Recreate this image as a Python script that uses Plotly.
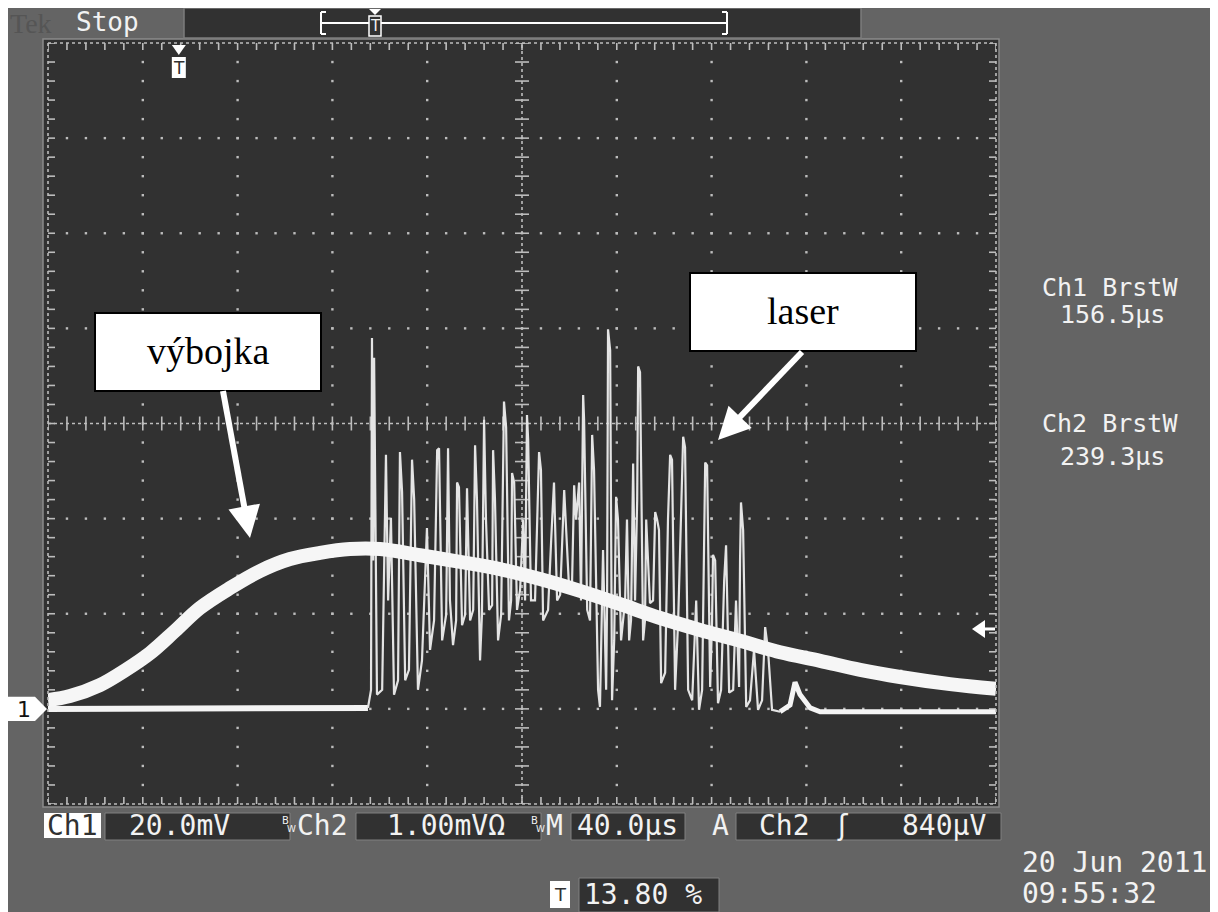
import plotly.graph_objects as go

# ---------------- data ----------------
TIME_PER_DIV_US = 40.0      # "M 40.0µs"
CH1_MV_PER_DIV = 20.0       # "Ch1 20.0mV"
CH2_MV_PER_DIV = 1.0        # "Ch2 1.00mV"
GROUND_DIV = -3.0           # both channel ground markers sit 3 div below centre
TRIG_LEVEL_MV = 0.84        # "Ch2 840µV"
TRIG_POS_PCT = 13.80        # "13.80 %"

# Ch1 – discharge lamp (výbojka)
ch1_t_us = [0, 9.3, 21.9, 32.5, 43.0, 53.6, 64.1, 76.8, 89.5, 102.1, 114.8, 127.4,
            140.1, 157.0, 173.9, 190.7, 207.6, 224.5, 241.4, 258.3, 275.1, 292.0,
            308.9, 325.8, 342.7, 359.5, 380.6, 400.0]
ch1_mv = [1.85, 2.7, 5.0, 8.1, 11.7, 16.4, 21.2, 25.4, 29.0, 31.5, 32.8, 33.6,
          33.6, 32.3, 30.9, 29.4, 27.3, 24.8, 22.0, 19.1, 16.6, 14.3,
          11.9, 10.1, 8.2, 6.7, 5.2, 4.2]

# Ch2 – laser: quiet baseline, burst of spikes, quiet baseline
ch2_pre_t_us = [0, 30.4, 64.1, 97.9, 135.0]
ch2_pre_mv = [0.0, 0.0, 0.01, 0.0, 0.01]

ch2_burst_t_us = [135.0, 136.3, 136.7, 137.2, 137.6, 138.8, 141.0, 142.6, 143.5, 144.7,
                  146.0, 147.7, 148.5, 149.4, 150.7, 152.3, 153.6, 154.5, 156.1, 157.8,
                  159.9, 161.2, 162.9, 164.2, 165.0, 166.3, 168.0, 168.8, 169.6, 170.9,
                  172.2, 172.6, 173.4, 174.7, 176.0, 176.8, 178.1, 179.4, 180.2, 181.0,
                  182.3, 183.1, 184.0, 184.8, 186.1, 187.4, 187.8, 188.6, 189.9, 191.2,
                  192.4, 193.3, 194.5, 195.4, 195.8, 196.7, 197.9, 199.2, 200.5, 201.3,
                  202.1, 202.6, 203.8, 205.5, 207.2, 208.0, 208.9, 211.0, 212.3, 213.5,
                  214.8, 216.1, 217.8, 218.6, 219.9, 221.1, 222.0, 222.8, 224.1, 224.9,
                  225.8, 226.2, 227.5, 228.7, 229.6, 230.4, 232.1, 232.9, 234.2, 235.5,
                  235.9, 236.3, 237.2, 238.0, 238.9, 239.7, 240.5, 241.8, 243.5, 244.3,
                  245.2, 246.0, 246.9, 247.7, 248.6, 249.0, 249.8, 251.1, 251.9, 252.4,
                  253.2, 254.0, 255.3, 256.2, 257.0, 257.8, 258.7, 260.4, 261.6, 262.5,
                  263.3, 264.6, 265.9, 267.1, 268.0, 268.8, 270.1, 271.8, 273.5, 274.7,
                  276.0, 277.3, 278.1, 279.4, 280.2, 280.6, 281.5, 282.7, 284.0, 285.3,
                  286.1, 287.4, 289.1, 290.3, 291.6, 292.0, 292.4, 293.3, 294.6, 296.2,
                  297.9, 299.6, 301.3, 302.6, 303.8, 305.5, 308.9]
ch2_burst_mv = [0.01, 0.20, 3.90, 1.56, 3.69, 0.15, 0.20, 2.67, 1.14, 2.01,
                0.15, 0.30, 2.70, 2.28, 0.30, 0.41, 2.62, 2.20, 0.20, 0.51,
                1.90, 0.62, 0.93, 2.72, 2.74, 0.72, 0.99, 2.74, 1.14, 0.67,
                0.93, 2.38, 2.33, 0.88, 0.99, 2.32, 0.93, 1.04, 2.77, 2.20,
                0.51, 0.99, 3.04, 1.99, 1.04, 1.09, 2.72, 2.20, 0.72, 0.99,
                3.23, 2.96, 0.93, 1.14, 2.48, 2.38, 1.04, 1.25, 1.99, 1.14,
                3.09, 2.83, 1.14, 1.14, 2.70, 2.51, 0.93, 1.04, 1.77, 2.38,
                1.14, 1.20, 2.30, 1.88, 1.25, 1.30, 2.35, 1.99, 2.38, 1.14,
                3.30, 3.04, 1.04, 0.93, 2.88, 2.51, 0.20, 0.02, 1.67, 0.20,
                1.14, 3.99, 3.77, 0.09, 0.72, 2.23, 1.99, 0.72, 1.14, 1.99,
                0.72, 0.93, 2.58, 1.14, 2.20, 3.60, 3.54, 0.72, 0.93, 1.99,
                1.56, 1.11, 1.14, 2.07, 1.99, 1.88, 0.27, 0.38, 1.99, 2.67,
                2.62, 0.20, 0.93, 1.99, 2.86, 2.75, 0.20, 0.09, 1.14, -0.01,
                0.20, 2.59, 2.56, 0.23, 0.93, 1.62, 1.56, 0.06, 0.20, 1.35,
                1.72, 0.17, 0.20, 1.14, 0.23, 1.56, 2.17, 1.88, 0.02, 0.09,
                0.62, -0.01, 0.09, 0.86, 0.62, -0.01, -0.03]

ch2_post_t_us = [308.9, 313.1, 315.2, 317.3, 321.6, 325.8, 359.5, 400.0]
ch2_post_mv = [-0.03, 0.04, 0.28, 0.15, 0.01, -0.03, -0.03, -0.03]

# ---------------- helpers ----------------
# The page body has an 8px white margin; that margin is the white strip seen
# along the top and left of the screenshot, so the figure itself is 8px smaller.
OFF = 8
W, H = 1218 - OFF, 912 - OFF
PL, PR, PT, PB = 48, 996, 43, 804          # graticule edges in screenshot px
BG = "#646464"
SCREEN = "#313131"
GRID = "#bdbdbd"
FG = "#f2f2f2"
MONO = "DejaVu Sans Mono, Liberation Mono, monospace"
SANS = "DejaVu Sans, sans-serif"
SERIF = "Liberation Serif, Times New Roman, serif"


def fx(x):
    return (x - PL) / (PR - PL)


def fy(y):
    return (PB - y) / (PB - PT)


shapes, annots = [], []


def rect(x0, y0, x1, y1, fill, line=None, lw=0, layer="above"):
    shapes.append(dict(type="rect", xref="paper", yref="paper",
                       x0=fx(x0), x1=fx(x1), y0=fy(y1), y1=fy(y0),
                       fillcolor=fill, line=dict(color=line or fill, width=lw), layer=layer))


def poly(pts, fill, layer="above"):
    d = "M " + " L ".join(f"{fx(x):.5f},{fy(y):.5f}" for x, y in pts) + " Z"
    shapes.append(dict(type="path", xref="paper", yref="paper", path=d,
                       fillcolor=fill, line=dict(color=fill, width=0), layer=layer))


def seg(x0, y0, x1, y1, color, w, dash="solid", layer="above"):
    shapes.append(dict(type="line", xref="paper", yref="paper",
                       x0=fx(x0), y0=fy(y0), x1=fx(x1), y1=fy(y1),
                       line=dict(color=color, width=w, dash=dash), layer=layer))


def text(x, y, s, size=28, color=FG, family=MONO, xanchor="left"):
    annots.append(dict(xref="paper", yref="paper", x=fx(x), y=fy(y), text=s,
                       showarrow=False, font=dict(family=family, size=size, color=color),
                       xanchor=xanchor, yanchor="middle", borderpad=0))


def arrow(x0, y0, x1, y1, head=32, half=16, w=6):
    dx, dy = x1 - x0, y1 - y0
    ln = (dx * dx + dy * dy) ** 0.5
    ux, uy = dx / ln, dy / ln
    bx, by = x1 - head * ux, y1 - head * uy
    nx, ny = -uy, ux
    seg(x0, y0, bx + 2 * ux, by + 2 * uy, "white", w)
    poly([(x1, y1), (bx + half * nx, by + half * ny), (bx - half * nx, by - half * ny)], "white")


# ---------------- frame ----------------
rect(43, 39, 999, 807, SCREEN, line="#8a8a8a", lw=1.5, layer="below")

# top status bar
text(9, 24, "Tek", size=28, color="#555555", family="Liberation Serif, serif")
text(75, 22, "Stop", size=26)
rect(184, 8, 861, 38, SCREEN, line="#7c7c7c", lw=1.5)
seg(321, 23, 727, 23, "white", 2)
seg(321, 12, 321, 34, "white", 2)
seg(321, 12, 326, 12, "white", 2)
seg(321, 34, 326, 34, "white", 2)
seg(727, 12, 727, 34, "white", 2)
seg(722, 12, 727, 12, "white", 2)
seg(722, 34, 727, 34, "white", 2)
poly([(369, 9), (381, 9), (375, 15)], "white")
rect(369, 16, 381, 36, SCREEN, line="white", lw=1.5)
text(375, 26, "T", size=15, family=SANS, xanchor="center")

# graticule border (dotted)
for (a, b, c, d) in [(PL, PT, PR, PT), (PL, PB, PR, PB), (PL, PT, PL, PB), (PR, PT, PR, PB)]:
    seg(a, b, c, d, GRID, 1.6, dash="dot")

# trigger position marker on the graticule
trig_px = PL + TRIG_POS_PCT / 100 * (PR - PL)
poly([(trig_px - 7, 45), (trig_px + 7, 45), (trig_px, 55)], "white")
rect(trig_px - 7, 57, trig_px + 7, 78, "white")
text(trig_px, 68, "T", size=17, color=SCREEN, family=SANS, xanchor="center")

# channel-1 ground marker
gnd_px = PT + (4 - GROUND_DIV) / 8 * (PB - PT)
poly([(8, gnd_px - 12), (35, gnd_px - 12), (47, gnd_px), (35, gnd_px + 12), (8, gnd_px + 12)], "white")
text(24, gnd_px + 1, "1", size=22, color="#111111", family=SANS, xanchor="center")

# trigger level marker (right edge)
lvl_px = PT + (4 - (TRIG_LEVEL_MV / CH2_MV_PER_DIV + GROUND_DIV)) / 8 * (PB - PT)
poly([(972, lvl_px), (985, lvl_px - 9), (985, lvl_px + 9)], "white")
seg(984, lvl_px, 995, lvl_px, "white", 3)

# bottom status bar
rect(44, 813, 101, 838, "white")
text(72, 826, "Ch1", size=28, color=SCREEN, xanchor="center")
rect(105, 813, 290, 840, SCREEN, line="#808080", lw=1)
text(128, 826, "20.0mV", size=28)
text(281, 820, "B", size=10, family=SANS)
text(286, 829, "W", size=9, family=SANS)
text(296, 826, "Ch2", size=28)
rect(356, 813, 541, 840, SCREEN, line="#808080", lw=1)
text(446, 826, "1.00mVΩ", size=28, xanchor="center")
text(530, 820, "B", size=10, family=SANS)
text(535, 829, "W", size=9, family=SANS)
text(545, 826, "M", size=28)
rect(571, 813, 685, 840, SCREEN, line="#808080", lw=1)
text(576, 826, "40.0µs", size=28)
text(711, 826, "A", size=28)
rect(736, 813, 1001, 840, SCREEN, line="#808080", lw=1)
text(758, 826, "Ch2", size=28)
text(836, 826, "ʃ", size=28, family=SANS)
text(901, 826, "840µV", size=28)

rect(550, 881, 570, 908, "white")
text(560, 894, "T", size=18, color=SCREEN, family=SANS, xanchor="center")
rect(579, 878, 719, 912, SCREEN, line="#808080", lw=1)
text(583, 894, "13.80 %", size=28)

text(1021, 862, "20 Jun 2011", size=28)
text(1021, 893, "09:55:32", size=28)

# measurement readouts
text(1110, 287, "Ch1 BrstW", size=25, xanchor="center")
text(1112, 315, "156.5µs", size=25, xanchor="center")
text(1110, 423, "Ch2 BrstW", size=25, xanchor="center")
text(1112, 456, "239.3µs", size=25, xanchor="center")

# callouts
rect(95, 313, 321, 391, "white", line="black", lw=2)
text(208, 351, "výbojka", size=38, color="black", family=SERIF, xanchor="center")
arrow(223, 391, 250, 538)
rect(690, 273, 916, 351, "white", line="black", lw=2)
text(803, 311, "laser", size=38, color="black", family=SERIF, xanchor="center")
arrow(802, 352, 718, 440)

# ---------------- graticule dots / ticks (in data space) ----------------
xmax = 10 * TIME_PER_DIV_US
dot_x, dot_y = [], []
for i in range(1, 10):
    if i == 5:
        continue
    for k in range(1, 40):
        dot_x.append(i * TIME_PER_DIV_US)
        dot_y.append(-4 + 0.2 * k)
for j in range(-3, 4):
    if j == 0:
        continue
    for k in range(1, 50):
        dot_x.append(k * 0.2 * TIME_PER_DIV_US)
        dot_y.append(j)

tick_h_x = [k * 0.2 * TIME_PER_DIV_US for k in range(0, 51)]
tick_v_y = [-4 + 0.2 * k for k in range(0, 41)]

fig = go.Figure()
fig.add_trace(go.Scatter(x=dot_x, y=dot_y, mode="markers",
                         marker=dict(symbol="square", size=2.4, color=GRID), hoverinfo="skip"))
fig.add_trace(go.Scatter(x=[0, xmax], y=[0, 0], mode="lines",
                         line=dict(color=GRID, width=1.6, dash="dot"), hoverinfo="skip"))
fig.add_trace(go.Scatter(x=[xmax / 2, xmax / 2], y=[-4, 4], mode="lines",
                         line=dict(color=GRID, width=1.6, dash="dot"), hoverinfo="skip"))
# centre-line ticks
fig.add_trace(go.Scatter(x=tick_h_x, y=[0] * len(tick_h_x), mode="markers",
                         marker=dict(symbol="line-ns", size=10, line=dict(color=GRID, width=1.6)),
                         hoverinfo="skip"))
fig.add_trace(go.Scatter(x=[xmax / 2] * len(tick_v_y), y=tick_v_y, mode="markers",
                         marker=dict(symbol="line-ew", size=10, line=dict(color=GRID, width=1.6)),
                         hoverinfo="skip"))
# border ticks (clipped -> only inward half shows)
fig.add_trace(go.Scatter(x=tick_h_x + tick_h_x, y=[4] * len(tick_h_x) + [-4] * len(tick_h_x),
                         mode="markers",
                         marker=dict(symbol="line-ns", size=10, line=dict(color=GRID, width=1.6)),
                         cliponaxis=True, hoverinfo="skip"))
fig.add_trace(go.Scatter(x=[0] * len(tick_v_y) + [xmax] * len(tick_v_y), y=tick_v_y + tick_v_y,
                         mode="markers",
                         marker=dict(symbol="line-ew", size=10, line=dict(color=GRID, width=1.6)),
                         cliponaxis=True, hoverinfo="skip"))


def ch2_div(vals):
    return [v / CH2_MV_PER_DIV + GROUND_DIV for v in vals]


def ch1_div(vals):
    return [v / CH1_MV_PER_DIV + GROUND_DIV for v in vals]


# Ch2 traces
fig.add_trace(go.Scatter(x=ch2_pre_t_us, y=ch2_div(ch2_pre_mv), mode="lines",
                         line=dict(color="#f4f4f4", width=6), hoverinfo="skip"))
fig.add_trace(go.Scatter(x=ch2_post_t_us, y=ch2_div(ch2_post_mv), mode="lines",
                         line=dict(color="#f4f4f4", width=5), hoverinfo="skip"))
fig.add_trace(go.Scatter(x=ch2_burst_t_us, y=ch2_div(ch2_burst_mv), mode="lines",
                         line=dict(color="#e4e4e4", width=2.2), hoverinfo="skip"))
# Ch1 trace (thick persistence band)
fig.add_trace(go.Scatter(x=ch1_t_us, y=ch1_div(ch1_mv), mode="lines",
                         line=dict(color="#f6f6f6", width=14, shape="spline"), hoverinfo="skip"))

fig.update_layout(
    width=W, height=H, autosize=False,
    margin=dict(l=PL - OFF, r=W - (PR - OFF), t=PT - OFF, b=H - (PB - OFF), pad=0),
    paper_bgcolor=BG, plot_bgcolor=SCREEN,
    showlegend=False,
    xaxis=dict(range=[0, xmax], showgrid=False, zeroline=False, showticklabels=False,
               ticks="", showline=False, fixedrange=True),
    yaxis=dict(range=[-4, 4], showgrid=False, zeroline=False, showticklabels=False,
               ticks="", showline=False, fixedrange=True),
    shapes=shapes, annotations=annots,
)

fig.write_html("out.html", config={"displayModeBar": False})
